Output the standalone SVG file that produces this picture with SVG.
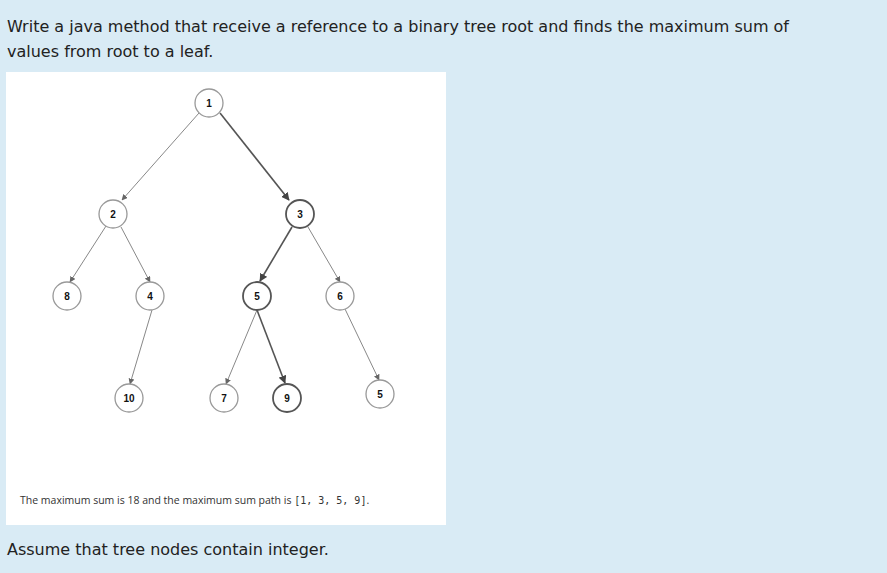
<svg xmlns="http://www.w3.org/2000/svg" width="887" height="573" viewBox="0 0 887 573">
<defs>
<marker id="a" viewBox="0 0 10 10" refX="9" refY="5" markerWidth="6" markerHeight="6" orient="auto" markerUnits="userSpaceOnUse"><path d="M0,0 L10,5 L0,10 z" fill="#666"/></marker>
<marker id="b" viewBox="0 0 10 10" refX="9" refY="5" markerWidth="8" markerHeight="8" orient="auto" markerUnits="userSpaceOnUse"><path d="M0,0 L10,5 L0,10 z" fill="#444"/></marker>
</defs>
<style>
.t{font-family:"DejaVu Sans",Verdana,sans-serif;font-size:16px;fill:#222}
.n circle{fill:#fff;stroke:#999;stroke-width:1.3}
.n.h circle{stroke:#555;stroke-width:1.8}
.n text{font-family:"Liberation Sans",Arial,sans-serif;font-weight:bold;font-size:10px;fill:#111;text-anchor:middle}
.e{stroke:#888;stroke-width:1;fill:none;marker-end:url(#a)}
.e.h{stroke:#555;stroke-width:1.6;marker-end:url(#b)}
</style>
<rect width="887" height="573" fill="#d9ebf5"/>
<text class="t" x="7" y="32">Write a java method that receive a reference to a binary tree root and finds the maximum sum of</text>
<text class="t" x="7" y="57">values from root to a leaf.</text>
<rect x="6" y="72" width="440" height="453" fill="#fff"/>
<g id="connectors">
<line class="e" x1="199" y1="113" x2="122" y2="200"/>
<line class="e h" x1="220" y1="113" x2="289" y2="200"/>
<line class="e" x1="106" y1="226" x2="70" y2="282"/>
<line class="e" x1="121" y1="227" x2="150" y2="282"/>
<line class="e h" x1="292" y1="227" x2="260" y2="281"/>
<line class="e" x1="308" y1="227" x2="340" y2="282"/>
<line class="e" x1="152" y1="310" x2="130" y2="384"/>
<line class="e" x1="257" y1="310" x2="226" y2="384"/>
<line class="e h" x1="257" y1="310" x2="285" y2="383"/>
<line class="e" x1="345" y1="309" x2="379" y2="380"/>
</g>
<g id="n1" class="n"><circle cx="209" cy="103" r="14"/><text x="209" y="107">1</text></g>
<g id="n2" class="n"><circle cx="113" cy="214" r="14"/><text x="113" y="218">2</text></g>
<g id="n3" class="n h"><circle cx="300" cy="214" r="14"/><text x="300" y="218">3</text></g>
<g id="n8" class="n"><circle cx="67" cy="296" r="14"/><text x="67" y="300">8</text></g>
<g id="n4" class="n"><circle cx="150" cy="296" r="14"/><text x="150" y="300">4</text></g>
<g id="n5" class="n h"><circle cx="257" cy="296" r="14"/><text x="257" y="300">5</text></g>
<g id="n6" class="n"><circle cx="340" cy="296" r="14"/><text x="340" y="300">6</text></g>
<g id="n10" class="n"><circle cx="129" cy="398" r="14"/><text x="129" y="402">10</text></g>
<g id="n7" class="n"><circle cx="224" cy="398" r="14"/><text x="224" y="402">7</text></g>
<g id="n9" class="n h"><circle cx="287" cy="398" r="14"/><text x="287" y="402">9</text></g>
<g id="n5b" class="n"><circle cx="380" cy="394" r="14"/><text x="380" y="398">5</text></g>
<text x="20" y="504" font-family="'Open Sans',sans-serif" font-size="10.5" fill="#333">The maximum sum is 18 and the maximum sum path is <tspan font-family="'DejaVu Sans Mono',monospace" font-size="10">[1, 3, 5, 9]</tspan>.</text>
<text class="t" x="7" y="555">Assume that tree nodes contain integer.</text>
</svg>
